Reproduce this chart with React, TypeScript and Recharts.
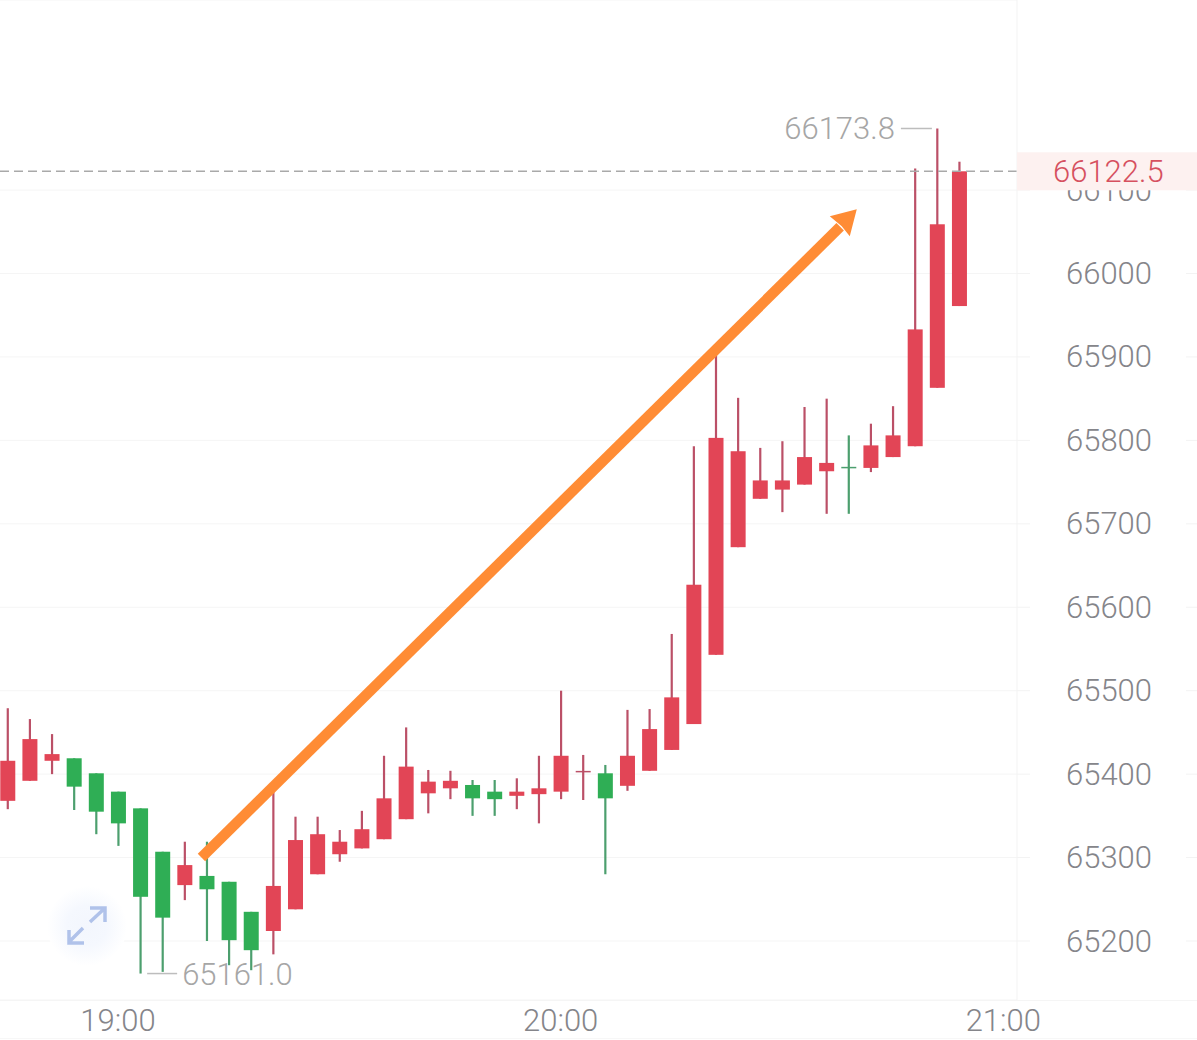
import React from 'react';
import { ComposedChart, Bar, XAxis, YAxis, CartesianGrid, ReferenceLine, ReferenceDot } from 'recharts';

const opens = [65368, 65392, 65416, 65419, 65401, 65379, 65359, 65307, 65267, 65278, 65271, 65235, 65212, 65238, 65280, 65304, 65311, 65322, 65346, 65377, 65383, 65387, 65379, 65374, 65376, 65379, 65403, 65401, 65386, 65404, 65429, 65460, 65543, 65672, 65730, 65741, 65747, 65763, 65767.4, 65767, 65780, 65793, 65863, 65961];
const closes = [65416, 65442, 65424, 65385, 65355, 65341, 65253, 65228, 65291, 65262, 65201, 65189, 65266, 65321, 65328, 65319, 65334, 65371, 65409, 65391, 65392, 65371, 65370, 65379, 65383, 65422, 65403, 65371, 65422, 65454, 65492, 65627, 65803, 65787, 65752, 65752, 65780, 65773, 65767, 65794, 65806, 65933, 66059, 66122.5];
const highs = [65479, 65466, 65448, 65419, 65401, 65379, 65359, 65307, 65319, 65319, 65271, 65235, 65379, 65349, 65349, 65333, 65356, 65422, 65456, 65405, 65404, 65393, 65393, 65395, 65422, 65500, 65423, 65411, 65477, 65478, 65568, 65793, 65906, 65851, 65791, 65799, 65840, 65850, 65806, 65820, 65841, 66126, 66173.8, 66134];
const lows = [65358, 65392, 65400, 65357, 65328, 65314, 65161, 65163, 65249, 65200, 65171, 65165, 65184, 65238, 65280, 65295, 65311, 65322, 65346, 65353, 65370, 65350, 65350, 65358, 65341, 65370, 65369, 65280, 65380, 65404, 65429, 65460, 65543, 65672, 65730, 65714, 65747, 65712, 65712, 65762, 65780, 65793, 65863, 65961];

const priceTicks = [65200, 65300, 65400, 65500, 65600, 65700, 65800, 65900, 66000, 66100];
const timeTicks = [5, 25, 45];
const timeLabels = ['19:00', '20:00', '21:00'];

const lastPrice = 66122.5;
const highPrice = 66173.8;
const lowPrice = 65161;
const highIndex = 42;
const lowIndex = 6;

// trend arrow drawn on top of the candles
const arrowFrom = { x: 8.77, y: 65300 };
const arrowTo = { x: 37.63, y: 66056 };
const arrowTip = { x: 38.38, y: 66077 };

const RED = '#e24556';
const GREEN = '#2fae55';
const RED_WICK = '#bb5067';
const GREEN_WICK = '#4c9f6e';
const FONT = 'Roboto, sans-serif';

const data = opens.map((open, i) => ({
  index: i,
  open,
  close: closes[i],
  high: highs[i],
  low: lows[i],
  range: [lows[i], highs[i]],
}));

const Candle = (props: any) => {
  const { x, y, width, height, payload } = props;
  const up = payload.close >= payload.open;
  const k = height / (payload.high - payload.low);
  const cx = x + width / 2;
  const top = y + (payload.high - Math.max(payload.open, payload.close)) * k;
  const bodyH = Math.abs(payload.close - payload.open) * k;
  return (
    <g>
      <line x1={cx} x2={cx} y1={y} y2={y + height} stroke={up ? RED_WICK : GREEN_WICK} strokeWidth={2.2} />
      {bodyH < 2 ? (
        <line x1={x} x2={x + width} y1={top} y2={top} stroke={up ? RED_WICK : GREEN_WICK} strokeWidth={1.5} />
      ) : (
        <rect x={x} y={top} width={width} height={bodyH} fill={up ? RED : GREEN} />
      )}
    </g>
  );
};

const PriceTick = (props: any) => {
  const { y, payload } = props;
  return (
    <g>
      <line x1={1017} x2={1030} y1={y} y2={y} stroke="#f3f3f3" />
      <line x1={1186} x2={1197} y1={y} y2={y} stroke="#f3f3f3" />
      <text x={1066} y={y + 10.5} fontFamily={FONT} fontWeight={300} fontSize={31} fill="#85858a">{payload.value}</text>
    </g>
  );
};

const TimeTick = (props: any) => {
  const { x, payload } = props;
  const label = timeLabels[timeTicks.indexOf(payload.value)];
  return (
    <text x={x} y={1031} textAnchor="middle" fontFamily={FONT} fontWeight={300} fontSize={31} fill="#85858a">{label}</text>
  );
};

// second axis, so that the tag sits on top of the 66100 tick as in the app
const PriceTag = (props: any) => {
  const { y } = props;
  return (
    <g>
      <rect x={1017} y={y - 19} width={180} height={38} fill="#fdf1f0" />
      <text x={1053} y={y + 11} fontFamily={FONT} fontWeight={300} fontSize={31} fill="#d6505f">{lastPrice.toFixed(1)}</text>
    </g>
  );
};

const HighMark = (props: any) => {
  const { cx, cy } = props;
  return (
    <g>
      <line x1={cx - 36} x2={cx - 5} y1={cy} y2={cy} stroke="#bdbdbd" strokeWidth={1.5} />
      <text x={cx - 42} y={cy + 11} textAnchor="end" fontFamily={FONT} fontWeight={300} fontSize={31} fill="#a6a6a6">{highPrice.toFixed(1)}</text>
    </g>
  );
};

const LowMark = (props: any) => {
  const { cx, cy } = props;
  return (
    <g>
      <line x1={cx + 7} x2={cx + 37} y1={cy} y2={cy} stroke="#bdbdbd" strokeWidth={1.5} />
      <text x={cx + 42} y={cy + 11} fontFamily={FONT} fontWeight={300} fontSize={31} fill="#a6a6a6">{lowPrice.toFixed(1)}</text>
    </g>
  );
};

const ArrowHead = (props: any) => {
  const { cx, cy } = props;
  return <polygon points={`${cx},${cy} ${cx - 27},${cy + 7} ${cx - 15},${cy + 17} ${cx - 7},${cy + 27}`} fill="#ff8c35" />;
};

export default function App() {
  return (
    <div style={{ position: 'absolute', left: 0, top: 0, width: 1197, height: 1040, background: '#fff', overflow: 'hidden' }}>
      <div style={{ position: 'absolute', left: 0, top: 1000, width: 1197, height: 1, background: '#f5f5f5' }} />
      <div style={{ position: 'absolute', left: 0, top: 1038, width: 1197, height: 1, background: '#f7f7f7' }} />
      <ComposedChart
        width={1197}
        height={1040}
        data={data}
        margin={{ top: 0, right: 0, bottom: 0, left: 0 }}
        style={{ position: 'absolute', left: 0, top: 0 }}
      >
        <CartesianGrid vertical={false} stroke="#f5f5f5" />
        <XAxis
          dataKey="index"
          type="number"
          domain={[-0.332, 45.62]}
          allowDataOverflow
          ticks={timeTicks}
          interval={0}
          height={40}
          axisLine={false}
          tickLine={false}
          tick={<TimeTick />}
        />
        <YAxis
          orientation="right"
          width={179}
          domain={[65129.3, 66327.8]}
          allowDataOverflow
          ticks={priceTicks}
          interval={0}
          axisLine={{ stroke: '#f3f3f3' }}
          tickLine={false}
          tick={<PriceTick />}
        />
        <YAxis
          yAxisId="tag"
          orientation="right"
          width={1}
          domain={[65129.3, 66327.8]}
          allowDataOverflow
          ticks={[lastPrice]}
          interval={0}
          axisLine={false}
          tickLine={false}
          tick={<PriceTag />}
        />
        <Bar dataKey="range" barSize={15} shape={<Candle />} isAnimationActive={false} />
        <ReferenceLine y={lastPrice} stroke="#a9a9a9" strokeWidth={1.5} strokeDasharray="9 5" />
        <ReferenceDot x={highIndex} y={highPrice} shape={<HighMark />} />
        <ReferenceDot x={lowIndex} y={lowPrice} shape={<LowMark />} />
        <ReferenceLine segment={[arrowFrom, arrowTo]} stroke="#ff8c35" strokeWidth={10.5} />
        <ReferenceDot x={arrowTip.x} y={arrowTip.y} shape={<ArrowHead />} />
      </ComposedChart>
      <svg width={80} height={80} style={{ position: 'absolute', left: 47, top: 886 }}>
        <defs>
          <radialGradient id="btn">
            <stop offset="0%" stopColor="#f3f6fd" />
            <stop offset="50%" stopColor="#f5f8fe" />
            <stop offset="100%" stopColor="#ffffff" />
          </radialGradient>
        </defs>
        <circle cx={40} cy={40} r={40} fill="url(#btn)" />
        <g fill="none" stroke="#b0c2ea" strokeWidth={3.5}>
          <path d="M43 36 L58 22 M43 22 H58 V36" />
          <path d="M36 42 L22 56 M22 44 V57 H37" />
        </g>
      </svg>
    </div>
  );
}
